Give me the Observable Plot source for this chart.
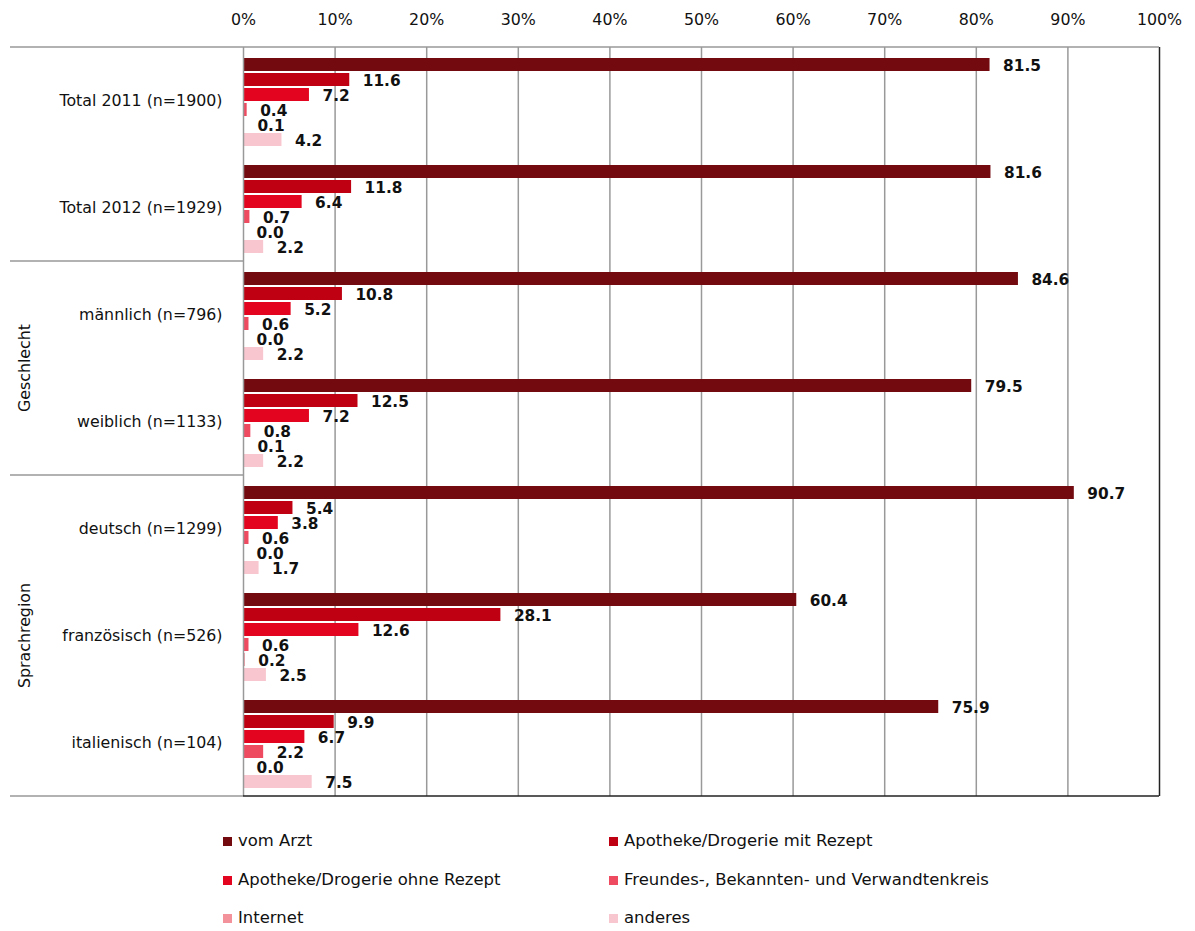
<!DOCTYPE html>
<html>
<head>
<meta charset="utf-8">
<script src="https://cdn.jsdelivr.net/npm/d3@7"></script>
<script src="https://cdn.jsdelivr.net/npm/@observablehq/plot@0.6"></script>
<style>
  body { margin: 0; background: white; }
  #wrap { position: relative; width: 1195px; height: 931px; font-family: "DejaVu Sans", sans-serif; color: #111; }
  .leg { position: absolute; line-height: 24px; white-space: nowrap; display: flex; align-items: center; }
  .sw { width: 9px; height: 9px; margin-right: 6px; display: inline-block; }
</style>
</head>
<body>
<div id="wrap"></div>
<script>
const categories = ["Total 2011 (n=1900)", "Total 2012 (n=1929)", "männlich (n=796)", "weiblich (n=1133)", "deutsch (n=1299)", "französisch (n=526)", "italienisch (n=104)"];
const series = ["vom Arzt", "Apotheke/Drogerie mit Rezept", "Apotheke/Drogerie ohne Rezept", "Freundes-, Bekannten- und Verwandtenkreis", "Internet", "anderes"];
const colors = ["#720A0F", "#BE0012", "#E3051F", "#EE4B61", "#F4929C", "#F8C6CE"];
const vomArzt    = [81.5, 81.6, 84.6, 79.5, 90.7, 60.4, 75.9];
const mitRezept  = [11.6, 11.8, 10.8, 12.5, 5.4, 28.1, 9.9];
const ohneRezept = [7.2, 6.4, 5.2, 7.2, 3.8, 12.6, 6.7];
const freunde    = [0.4, 0.7, 0.6, 0.8, 0.6, 0.6, 2.2];
const internet   = [0.1, 0.0, 0.0, 0.1, 0.0, 0.2, 0.0];
const anderes    = [4.2, 2.2, 2.2, 2.2, 1.7, 2.5, 7.5];
const xTicks = [0, 10, 20, 30, 40, 50, 60, 70, 80, 90, 100];
const groupLabels = ["Geschlecht", "Sprachregion"];
const groupMembers = [["männlich (n=796)", "weiblich (n=1133)"], ["deutsch (n=1299)", "französisch (n=526)", "italienisch (n=104)"]];
const separatorsBefore = ["Total 2011 (n=1900)", "männlich (n=796)", "deutsch (n=1299)"];

const seriesValues = [vomArzt, mitRezept, ohneRezept, freunde, internet, anderes];
const data = [];
categories.forEach((c, i) => series.forEach((s, j) => data.push({category: c, series: s, value: seriesValues[j][i]})));

const font = '"DejaVu Sans", sans-serif';
const wrap = document.getElementById("wrap");

function draw(fs) {
  return Plot.plot({
    width: 1195,
    height: 800,
    marginTop: 46,
    marginBottom: 3,
    marginLeft: 243,
    marginRight: 36,
    style: {fontFamily: font, fontSize: fs + "px", color: "#111", background: "white", overflow: "visible"},
    x: {domain: [0, 100]},
    y: {domain: series, axis: null, paddingInner: 0.125, paddingOuter: 0.41, align: 0.6},
    fy: {domain: categories, paddingInner: 0, paddingOuter: 0, label: null},
    color: {domain: series, range: colors},
    marks: [
      Plot.ruleX(xTicks.slice(1, -1), {stroke: "#999", strokeWidth: 1.5}),
      Plot.barX(data, {x: "value", y: "series", fy: "category", fill: "series"}),
      Plot.text(data, {x: "value", y: "series", fy: "category", text: d => d.value.toFixed(1), dx: 13, dy: 1, textAnchor: "start", fontWeight: "bold", fontSize: fs * 0.97, fill: "#111"}),
      Plot.ruleX([0], {stroke: "#999", strokeWidth: 1.5}),
      Plot.ruleX([100], {stroke: "#222", strokeWidth: 1.5}),
      Plot.axisX(xTicks, {anchor: "top", tickFormat: d => d + "%", tickSize: 0, tickPadding: 23, label: null, fontSize: fs}),
      Plot.axisFy({anchor: "left", tickSize: 0, tickPadding: 21, label: null, fontSize: fs})
    ]
  });
}

// measure the first category label and fit its width to the reference (≈164px)
let fs = 21;
let probe = draw(fs);
wrap.appendChild(probe);
let w = 0;
probe.querySelectorAll("text").forEach(t => { if (t.textContent === categories[0]) w = t.getBBox().width; });
probe.remove();
if (w > 0) fs = Math.min(22, fs * 164 / w);

const chart = draw(fs);
wrap.appendChild(chart);

// decorations derived from the chart's scales
const xs = chart.scale("x"), fys = chart.scale("fy");
const svg = d3.select(chart);
const x0 = xs.apply(0), x100 = xs.apply(100);
const bw = fys.bandwidth;
const bottom = fys.apply(categories[categories.length - 1]) + bw;
const g = svg.append("g");
separatorsBefore.forEach(c => {
  const y = fys.apply(c);
  g.append("line").attr("x1", 10).attr("x2", c === categories[0] ? x100 : x0).attr("y1", y).attr("y2", y).attr("stroke", "#999").attr("stroke-width", 1.5);
});
g.append("line").attr("x1", 10).attr("x2", x0).attr("y1", bottom).attr("y2", bottom).attr("stroke", "#999").attr("stroke-width", 1.5);
g.append("line").attr("x1", x0).attr("x2", x100).attr("y1", bottom).attr("y2", bottom).attr("stroke", "#222").attr("stroke-width", 1.5);
groupLabels.forEach((lab, i) => {
  const m = groupMembers[i];
  const yc = (fys.apply(m[0]) + fys.apply(m[m.length - 1]) + bw) / 2;
  g.append("text").attr("transform", `translate(25,${yc}) rotate(-90)`).attr("text-anchor", "middle").attr("dominant-baseline", "middle")
    .attr("font-family", font).attr("font-size", fs).attr("fill", "#111").text(lab);
});

// legend (HTML)
const legPos = [[223, 841], [609, 841], [223, 880], [609, 880], [223, 918], [609, 918]];
series.forEach((s, i) => {
  const d = document.createElement("div");
  d.className = "leg";
  d.style.left = legPos[i][0] + "px";
  d.style.top = (legPos[i][1] - 12) + "px";
  d.style.fontSize = (fs * 1.04) + "px";
  d.innerHTML = `<span class="sw" style="background:${colors[i]}"></span><span></span>`;
  d.lastChild.textContent = s;
  wrap.appendChild(d);
});
</script>
</body>
</html>
